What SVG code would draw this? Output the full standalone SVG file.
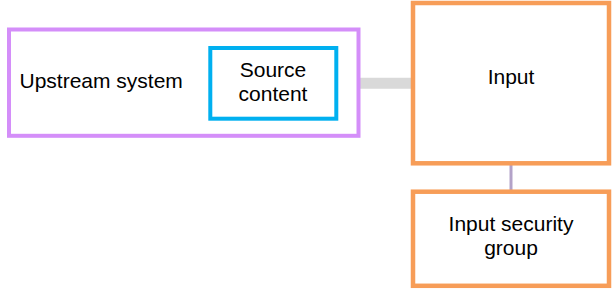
<svg xmlns="http://www.w3.org/2000/svg" width="613" height="289" viewBox="0 0 613 289">
<style>
.t{font-family:"Liberation Sans",Arial,sans-serif;font-size:21px;fill:#000}
.m{text-anchor:middle}
.orange{fill:#fff;stroke:#f79d58;stroke-width:4.5}
</style>
<rect width="613" height="289" fill="#fff"/>
<g id="connectors">
<line x1="360" y1="83.3" x2="411" y2="83.3" stroke="#d9d9d9" stroke-width="11"/>
<line x1="511" y1="163" x2="511" y2="190" stroke="#b3a2c8" stroke-width="3"/>
</g>
<g id="upstream">
<rect x="9" y="29.5" width="349.5" height="106.3" fill="#fff" stroke="#d48ef9" stroke-width="4"/>
<text class="t" x="19.5" y="88.3">Upstream system</text>
</g>
<g id="source">
<rect x="210.3" y="48" width="126" height="70.7" fill="#fff" stroke="#00b0f0" stroke-width="4"/>
<text class="t m" x="273" y="77">Source</text>
<text class="t m" x="273" y="100.8">content</text>
</g>
<g id="input">
<rect class="orange" x="413" y="3" width="196" height="160.3"/>
<text class="t m" x="511" y="84">Input</text>
</g>
<g id="security">
<rect class="orange" x="413" y="191.7" width="196" height="94.1"/>
<text class="t m" x="511" y="230.8">Input security</text>
<text class="t m" x="511" y="254.6">group</text>
</g>
</svg>
